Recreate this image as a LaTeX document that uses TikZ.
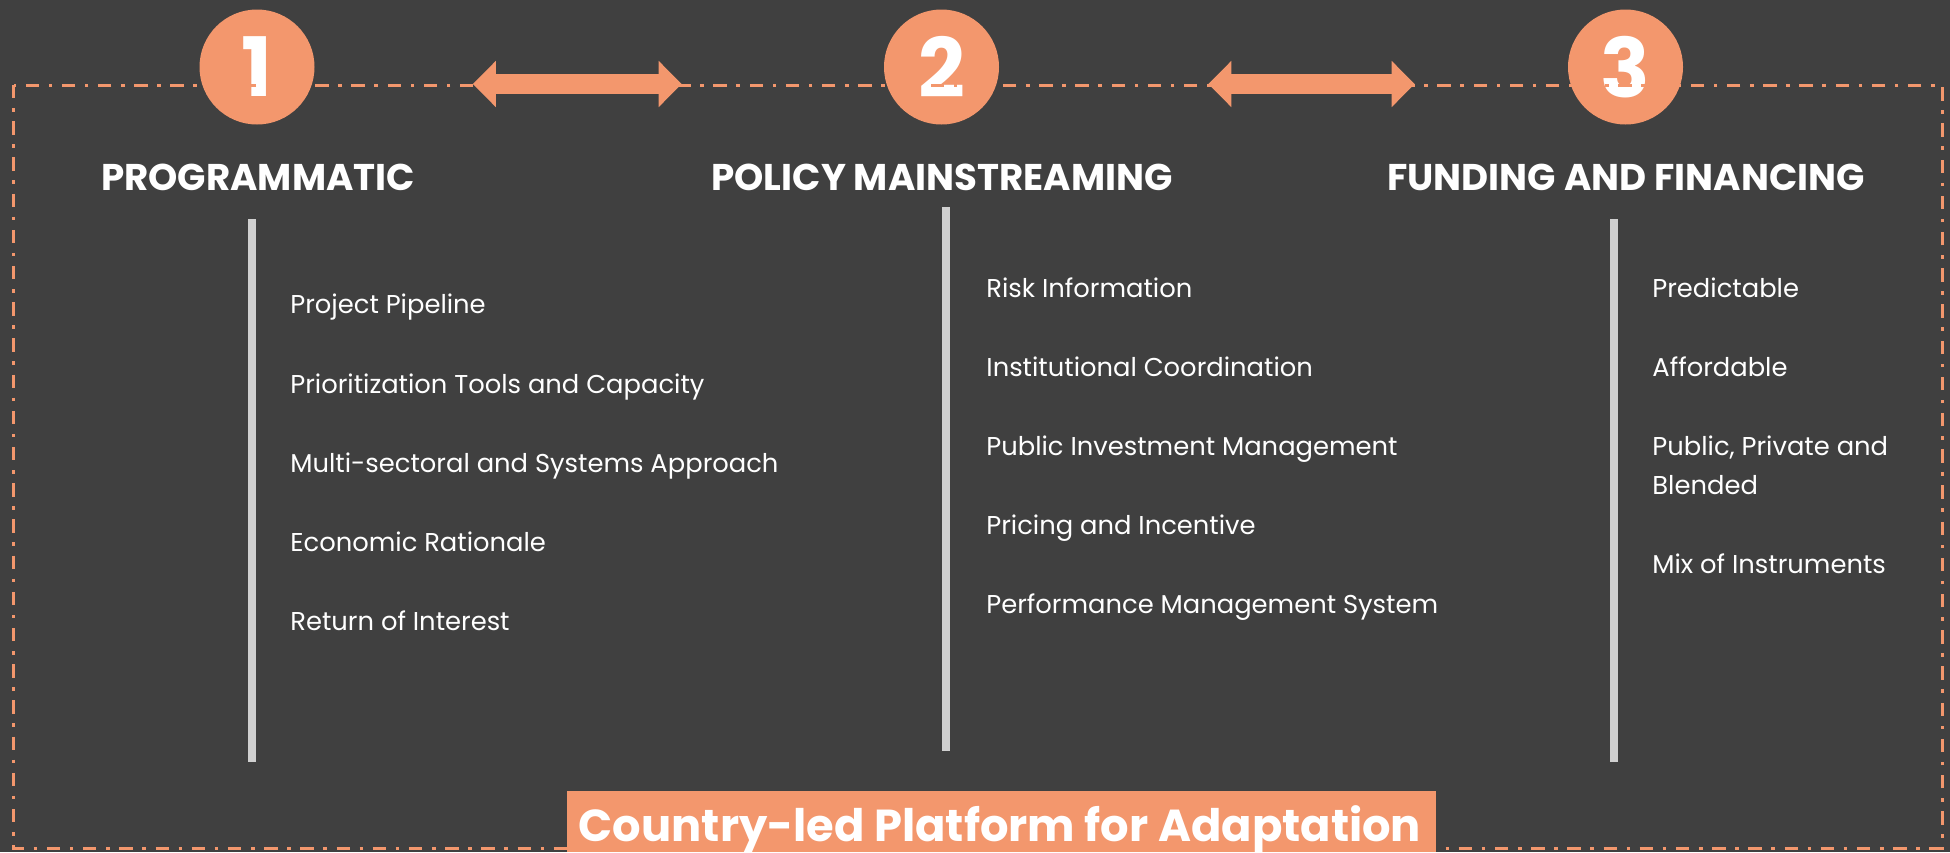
\documentclass[tikz,border=0pt]{standalone}
\usepackage{fontspec}
\setmainfont{Poppins}
\usetikzlibrary{arrows.meta}
\definecolor{nen}{HTML}{404040}
\definecolor{cam}{HTML}{F3976D}
\definecolor{xam}{HTML}{D0D0D0}
\tikzset{
    so/.style={circle,fill=cam,minimum size=57.5pt,inner sep=0pt,text=white,font=\fontsize{41}{41}\selectfont\bfseries},
    tieude/.style={anchor=base,inner sep=0pt,text=white,font=\fontsize{18.6}{20}\selectfont\bfseries},
    muc/.style={anchor=base west,inner sep=0pt,text=white,align=left,font=\fontsize{12.9}{19.5}\selectfont},
    muiten/.style={cam,line width=10pt,{Triangle[length=11.5pt,width=22.5pt]}-{Triangle[length=11.5pt,width=22.5pt]}}
}
\begin{document}
\begin{tikzpicture}[x=0.5pt,y=-0.5pt]
    \fill[nen] (0,0) rectangle (1950,852);
    \useasboundingbox (0,0) rectangle (1950,852);
    \foreach \x/\k in {257/1,941.5/2,1625.5/3}
    \path (\x,67) node[so] (c\k) {\k};
    \draw[cam,line width=1.5pt,dash pattern=on 6.7pt off 4.8pt on 1.8pt off 4.8pt] (13.5,85) rectangle (1942,848);%khung
    \foreach \a/\b/\s/\t in {c1/c2/79pt/101pt,c2/c3/104.5pt/76.5pt}
    \draw[muiten,shorten <=\s,shorten >=\t] ([yshift=-8.5pt]\a.east)--([yshift=-8.5pt]\b.west);
    \path
    (258,190) node[tieude] (t1) {PROGRAMMATIC}
    (942,190) node[tieude] (t2) {POLICY MAINSTREAMING}
    (1626,190) node[tieude] (t3) {FUNDING AND FINANCING};
    \foreach \x/\a/\b in {252/219/762,946/207/751,1614/219/762}
    \draw[xam,line width=4pt] (\x,\a)--(\x,\b);%vạch
    \foreach \y/\t [count=\i] in {313/Project Pipeline,393/Prioritization Tools and Capacity,472/Multi-sectoral and Systems Approach,551/Economic Rationale,630/Return of Interest}
    \path (290,\y) node[muc] (p\i) {\t};
    \foreach \y/\t [count=\i] in {297/Risk Information,376/Institutional Coordination,455/Public Investment Management,534/Pricing and Incentive,613/Performance Management System}
    \path (986,\y) node[muc] (q\i) {\t};
    \path
    (1652,297) node[muc] (r1) {Predictable}
    (1652,376) node[muc] (r2) {Affordable}
    (1652,494) node[muc] (r3) {Public, Private and\\Blended}
    (1652,573) node[muc] (r4) {Mix of Instruments};
    \fill[cam] (567,791) rectangle (1436,852);
    \path (1000,841) node[anchor=base,inner sep=0pt,text=white,font=\fontsize{22.4}{24}\selectfont\bfseries] (nentang) {Country-led Platform for Adaptation};
\end{tikzpicture}
\end{document}
